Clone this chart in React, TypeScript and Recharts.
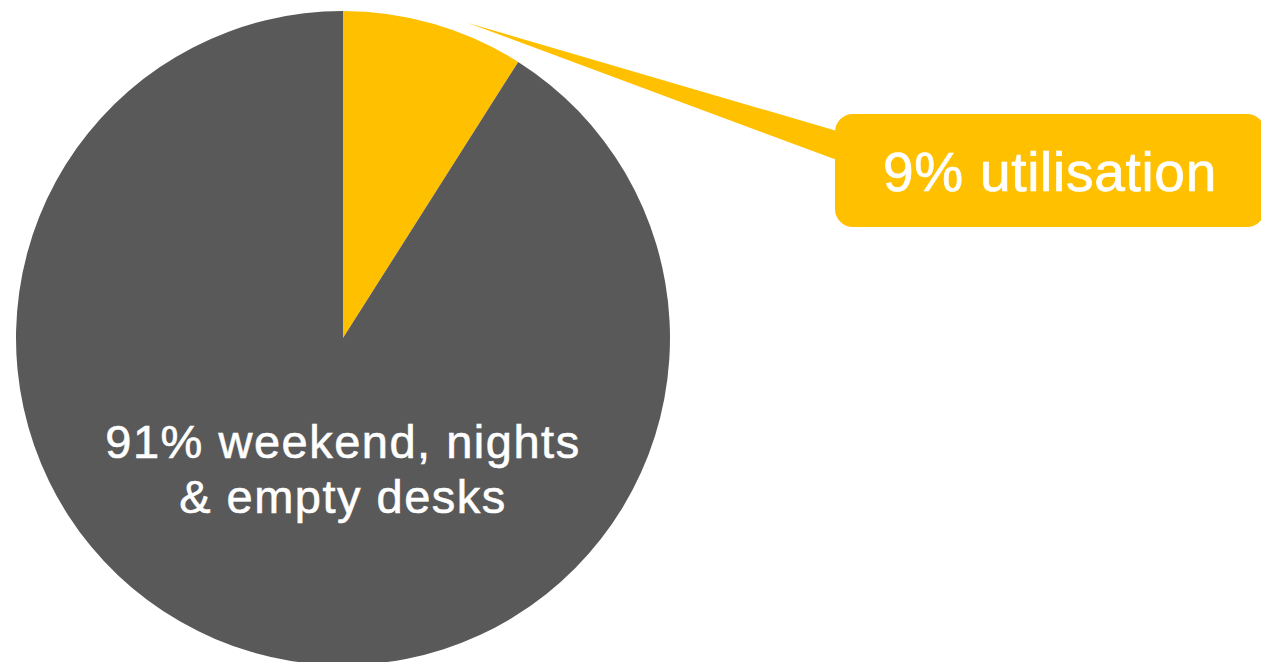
import React from "react";
import { PieChart, Pie, Cell } from "recharts";

const categories = ["utilisation", "weekend, nights & empty desks"];
const values = [9, 91];
const colors = ["#FFC000", "#595959"];
const labelLines = [["9% utilisation"], ["91% weekend, nights", "& empty desks"]];

const data = categories.map((name, i) => ({ name, value: values[i] }));

const FONT = "'Liberation Sans', Arial, Helvetica, sans-serif";

const renderLabel = (props: any) => {
  const { cx, cy, index } = props;
  if (index === 0) {
    const tipX = cx + 125;
    const tipY = cy - 315;
    const rx = cx + 492;
    const ry = cy - 224;
    const rw = 430;
    const rh = 113;
    return (
      <g>
        <polygon
          points={`${tipX},${tipY} ${rx + 2},${ry + 17} ${rx + 2},${ry + 46}`}
          fill={colors[0]}
        />
        <rect x={rx} y={ry} width={rw} height={rh} rx={18} ry={18} fill={colors[0]} />
        <text
          x={rx + 215}
          y={ry + 77}
          textAnchor="middle"
          fill="#ffffff"
          stroke="#ffffff"
          strokeWidth={0.7}
          fontFamily={FONT}
          fontSize={55}
          letterSpacing={0.7}
        >
          {labelLines[0][0]}
        </text>
      </g>
    );
  }
  return (
    <text
      x={cx}
      y={cy + 120}
      textAnchor="middle"
      fill="#ffffff"
      stroke="#ffffff"
      strokeWidth={0.6}
      fontFamily={FONT}
      fontSize={47}
      letterSpacing={1.5}
    >
      {labelLines[1].map((l, i) => (
        <tspan key={i} x={cx} dy={i === 0 ? 0 : 55}>
          {l}
        </tspan>
      ))}
    </text>
  );
};

export default function App() {
  return (
    <div style={{ position: "absolute", left: 0, top: 0, width: 1261, height: 662, background: "#fff" }}>
      <PieChart width={1261} height={662} margin={{ top: 0, right: 0, bottom: 0, left: 0 }}>
        <Pie
          data={data}
          dataKey="value"
          nameKey="name"
          cx={343}
          cy={338}
          outerRadius={327}
          startAngle={90}
          endAngle={-270}
          stroke="none"
          isAnimationActive={false}
          label={renderLabel}
          labelLine={false}
        >
          {data.map((d, i) => (
            <Cell key={d.name} fill={colors[i]} />
          ))}
        </Pie>
      </PieChart>
    </div>
  );
}
